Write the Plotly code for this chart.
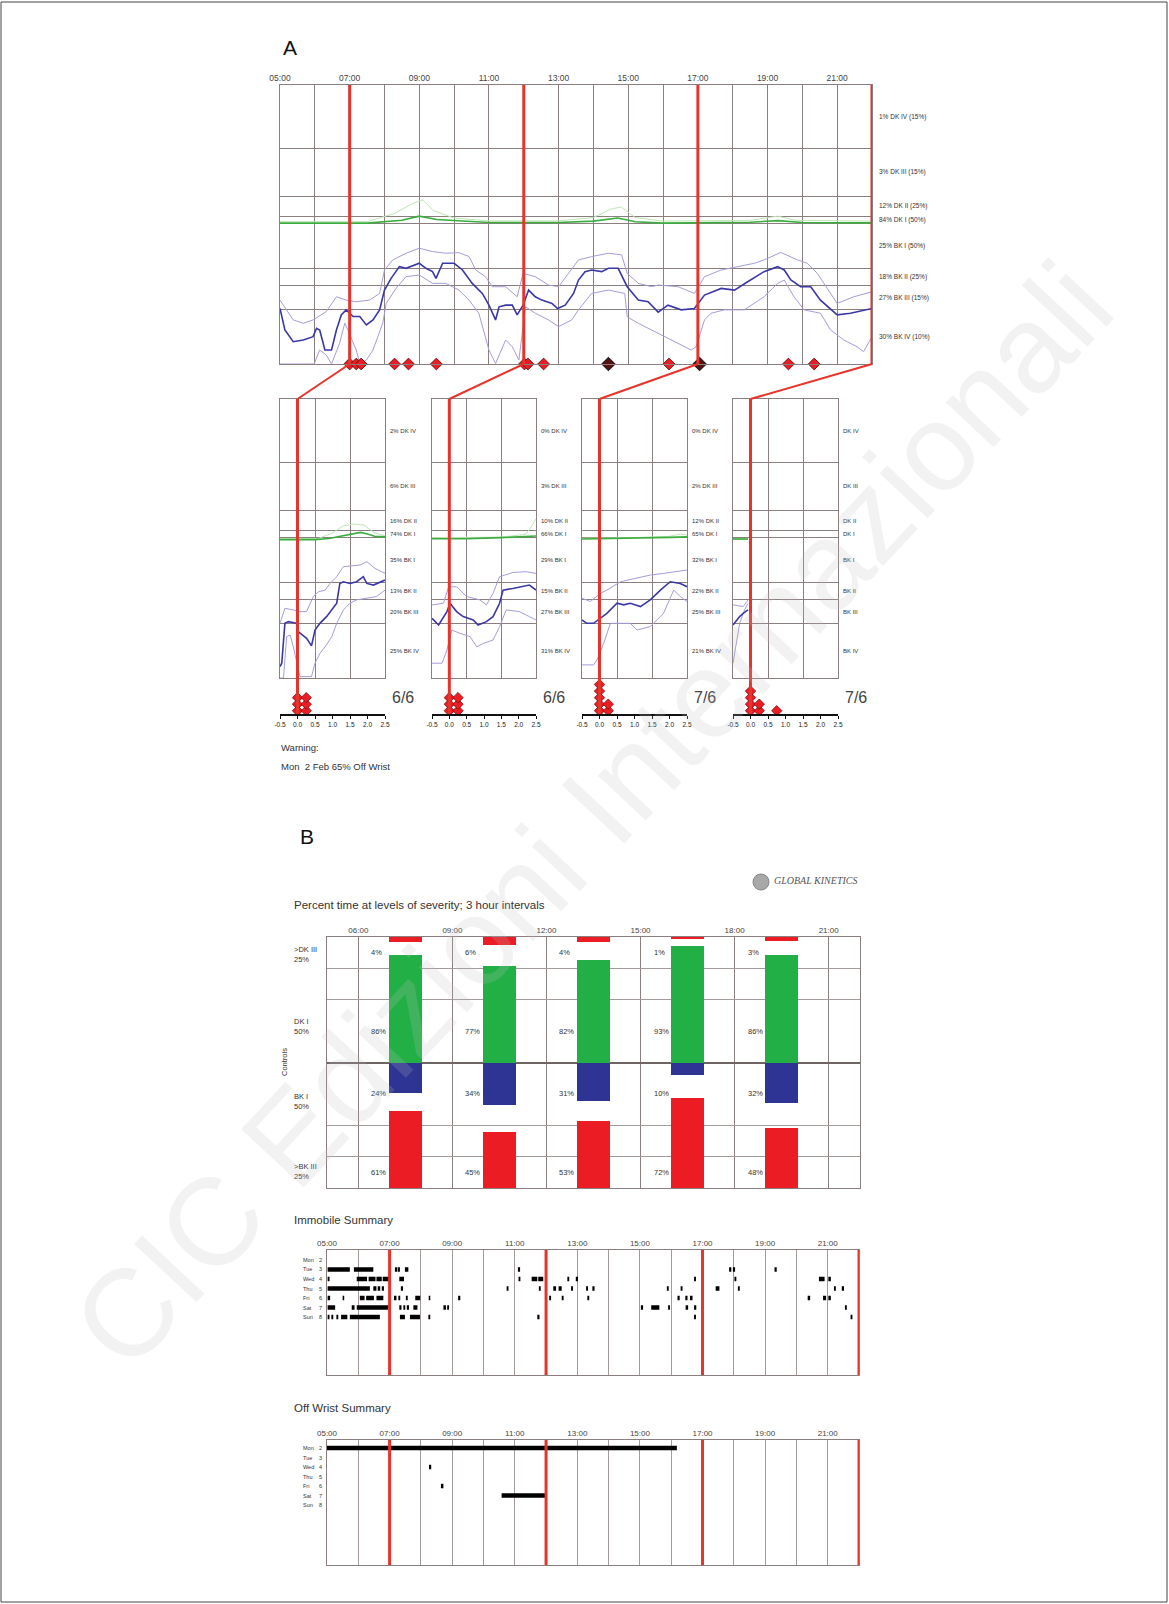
import plotly.graph_objects as go

# ---------------- data ----------------
HOURS = list(range(5, 23))                       # hourly grid 05:00 - 22:00
LABEL_HOURS = [5, 7, 9, 11, 13, 15, 17, 19, 21]
BAR_LABEL_HOURS = [6, 9, 12, 15, 18, 21]
WINDOW_STARTS = [7.0, 12.0, 17.0, 22.0]          # starts of the four 3-hour windows
WINDOW_DATES = ["6/6", "6/6", "7/6", "7/6"]
WINDOW_TICKS = [-0.5, 0.0, 0.5, 1.0, 1.5, 2.0, 2.5]

# severity bands (bottom -> top) on a 0-100 display scale
BAND_EDGES = [0, 19.4, 28.0, 34.4, 50.2, 52.7, 60.2, 77.4, 100]
BAND_NAMES = ["BK IV", "BK III", "BK II", "BK I", "DK I", "DK II", "DK III", "DK IV"]
DAY_PCT = [30, 27, 18, 25, 84, 12, 3, 1]
CONTROL_PCT = [10, 15, 25, 50, 50, 25, 15, 15]
WIN1_PCT = [25, 20, 13, 35, 74, 16, 6, 2]
WIN2_PCT = [31, 27, 15, 29, 66, 10, 3, 0]
WIN3_PCT = [21, 25, 22, 32, 65, 12, 2, 0]
WIN4_PCT = [None] * 8

# whole-day bradykinesia score: median, 75th and 25th percentile (hour, score)
DAY_MED = [(5.00, 19.9), (5.14, 12.2), (5.38, 8.0), (5.67, 8.6), (5.95, 9.8), (6.05, 12.8),
           (6.14, 12.2), (6.29, 5.0), (6.48, 5.0), (6.62, 12.2), (6.76, 17.6), (6.90, 19.4),
           (7.10, 17.0), (7.29, 17.0), (7.48, 14.0), (7.67, 15.8), (7.86, 19.4), (8.00, 26.5),
           (8.19, 30.7), (8.43, 34.9), (8.62, 34.3), (9.00, 36.1), (9.19, 34.3), (9.38, 33.1),
           (9.48, 30.7), (9.67, 36.1), (10.00, 36.1), (10.24, 33.7), (10.52, 28.9), (10.81, 25.3),
           (11.00, 21.1), (11.19, 15.8), (11.29, 20.5), (11.48, 21.1), (11.67, 21.1), (11.81, 17.6),
           (11.98, 21.1), (12.14, 26.5), (12.33, 24.1), (12.52, 22.9), (12.81, 21.7), (12.97, 19.9),
           (13.19, 21.1), (13.43, 25.3), (13.57, 30.1), (13.76, 33.1), (13.95, 33.7), (14.24, 33.1),
           (14.43, 34.3), (14.71, 34.3), (14.97, 27.7), (15.29, 22.9), (15.57, 22.3), (15.86, 18.6),
           (16.14, 21.1), (16.52, 19.4), (16.90, 19.9), (17.19, 24.7), (17.67, 27.1), (18.05, 26.5),
           (18.43, 29.5), (18.90, 33.1), (19.29, 34.9), (19.48, 33.7), (19.67, 30.1), (19.95, 27.7),
           (20.24, 27.7), (20.52, 22.9), (21.00, 17.6), (21.38, 18.2), (22.00, 19.9)]
DAY_UP = [(5.00, 22.9), (5.38, 15.8), (5.67, 14.6), (5.95, 15.8), (6.33, 18.8), (6.62, 24.1),
          (6.90, 22.9), (7.19, 22.3), (7.57, 22.9), (7.86, 25.3), (8.00, 33.7), (8.24, 37.3),
          (8.62, 39.7), (9.00, 41.5), (9.38, 40.3), (9.76, 39.7), (10.14, 39.9), (10.43, 38.5),
          (10.62, 33.7), (10.90, 31.3), (11.10, 27.7), (11.48, 27.7), (11.81, 24.1), (11.98, 32.5),
          (12.33, 31.3), (12.71, 28.3), (13.00, 27.7), (13.29, 32.5), (13.57, 37.3), (13.95, 38.5),
          (14.43, 39.7), (14.81, 39.1), (14.97, 32.5), (15.29, 28.9), (15.67, 27.7), (15.86, 28.3),
          (16.43, 27.7), (16.90, 25.3), (17.19, 31.3), (17.67, 33.7), (18.14, 34.9), (18.62, 36.1),
          (18.90, 37.3), (19.38, 40.0), (19.86, 37.3), (20.14, 36.1), (20.43, 32.5), (20.81, 25.3),
          (21.00, 21.7), (21.48, 24.1), (22.00, 25.9)]
DAY_LOW = [(5.00, 0.0), (5.98, 0.0), (6.14, 5.0), (6.33, 3.2), (6.48, 0.0), (6.71, 7.4),
           (6.86, 14.6), (6.95, 12.2), (7.19, 5.0), (7.29, 0.2), (7.48, 1.4), (7.67, 5.0),
           (7.95, 14.6), (8.05, 21.7), (8.33, 27.1), (8.62, 31.3), (9.00, 31.9), (9.38, 28.9),
           (9.76, 28.9), (10.14, 26.5), (10.43, 22.9), (10.71, 18.2), (11.00, 5.0), (11.19, 0.2),
           (11.48, 8.6), (11.67, 6.2), (11.86, 1.4), (11.98, 14.6), (12.05, 20.5), (12.33, 18.2),
           (12.71, 15.8), (13.00, 13.4), (13.38, 15.8), (13.57, 19.4), (13.95, 25.3), (14.43, 26.5),
           (14.90, 25.3), (14.97, 16.9), (15.29, 14.6), (15.67, 12.2), (16.05, 9.8), (16.43, 7.4),
           (16.81, 5.0), (16.95, 6.2), (17.19, 15.8), (17.38, 18.2), (17.76, 19.4), (18.33, 19.4),
           (18.90, 24.1), (19.29, 28.9), (19.48, 30.1), (19.76, 24.1), (20.05, 19.4), (20.52, 18.2),
           (20.81, 12.2), (21.19, 8.6), (21.57, 6.2), (21.76, 4.4), (22.00, 9.8)]
# whole-day dyskinesia score: median and 75th percentile
DAY_DK_MED = [(5.0, 50.5), (7.5, 50.5), (8.5, 51.5), (9.0, 53.0), (9.5, 51.8), (10.5, 51.2),
              (11.0, 50.7), (13.0, 50.7), (14.0, 51.2), (14.7, 52.3), (15.2, 51.0), (16.0, 50.5),
              (18.5, 50.8), (19.3, 51.4), (20.0, 50.7), (22.0, 50.6)]
DAY_DK_UP = [(5.0, 51.0), (7.5, 51.0), (8.3, 54.0), (8.8, 57.5), (9.1, 58.8), (9.4, 55.0),
             (10.0, 52.3), (11.0, 51.3), (13.0, 51.3), (14.0, 52.5), (14.5, 55.5), (14.8, 56.3),
             (15.2, 52.5), (16.0, 51.2), (18.5, 51.5), (19.3, 53.0), (19.8, 51.5), (22.0, 51.2)]
DOSE_TIMES = [7.00, 7.19, 7.33, 8.29, 8.69, 9.49, 12.02, 12.12, 12.57, 16.17, 19.60, 20.34]
DOSE_ACK_TIMES = [14.43, 17.05]

# 3-hour windows, hours relative to window start
WIN1_MED = [(-0.50, 4.1), (-0.45, 5.3), (-0.36, 19.6), (-0.26, 20.2), (-0.02, 19.6), (0.02, 16.6),
            (0.26, 14.2), (0.40, 11.5), (0.50, 17.2), (0.64, 19.6), (0.83, 22.0), (0.98, 24.4),
            (1.12, 26.8), (1.21, 33.9), (1.31, 34.5), (1.50, 33.9), (1.69, 34.5), (1.88, 36.3),
            (1.98, 33.9), (2.17, 33.3), (2.50, 35.1)]
WIN1_UP = [(-0.50, 19.6), (-0.36, 25.0), (-0.12, 24.4), (0.02, 23.8), (0.26, 23.8), (0.45, 29.2),
           (0.60, 30.9), (0.79, 31.5), (0.93, 33.9), (1.12, 36.3), (1.31, 39.9), (1.79, 40.5),
           (1.98, 41.7), (2.21, 39.3), (2.50, 37.5)]
WIN1_LOW = [(-0.50, 0.0), (-0.40, 0.0), (-0.31, 14.8), (-0.21, 15.4), (-0.12, 11.2), (-0.02, 5.3),
            (0.07, 0.5), (0.40, 0.5), (0.50, 5.3), (0.64, 8.8), (0.79, 11.2), (0.98, 14.8),
            (1.12, 19.6), (1.31, 24.4), (1.50, 26.8), (1.69, 28.0), (1.98, 28.6), (2.26, 29.2),
            (2.50, 31.5)]
WIN1_DK_MED = [(-0.5, 49.6), (0.5, 49.6), (0.9, 50.0), (1.3, 51.0), (1.6, 51.5), (1.8, 52.2),
               (2.0, 51.6), (2.2, 50.8), (2.5, 50.6)]
WIN1_DK_UP = [(-0.5, 50.0), (0.6, 50.0), (1.0, 52.0), (1.3, 54.5), (1.6, 55.2), (1.9, 54.8),
              (2.2, 52.0), (2.5, 51.0)]

WIN2_MED = [(-0.50, 21.4), (-0.31, 19.0), (-0.07, 23.8), (0.02, 26.8), (0.21, 23.8), (0.40, 22.0),
            (0.69, 20.8), (0.83, 19.0), (1.07, 20.2), (1.26, 22.0), (1.45, 26.8), (1.55, 31.5),
            (1.83, 32.1), (2.12, 32.7), (2.31, 33.3), (2.50, 31.5)]
WIN2_UP = [(-0.50, 26.2), (-0.17, 26.8), (-0.02, 32.7), (0.21, 32.7), (0.50, 29.2), (0.88, 28.0),
           (1.07, 26.2), (1.26, 30.3), (1.45, 36.3), (1.83, 37.8), (2.21, 38.1), (2.50, 37.5)]
WIN2_LOW = [(-0.50, 5.3), (-0.21, 5.3), (-0.07, 10.0), (0.07, 17.2), (0.31, 16.0), (0.60, 14.8),
            (0.79, 11.2), (0.98, 12.4), (1.26, 13.6), (1.45, 18.4), (1.64, 24.4), (2.02, 23.8),
            (2.31, 22.0), (2.50, 20.8)]
WIN2_DK_MED = [(-0.5, 49.9), (0.5, 49.9), (1.5, 50.3), (2.2, 50.8), (2.5, 50.9)]
WIN2_DK_UP = [(-0.5, 50.3), (1.5, 50.5), (2.2, 51.5), (2.35, 54.0), (2.5, 57.0)]

WIN3_MED = [(-0.50, 20.8), (-0.36, 19.6), (-0.17, 19.6), (0.02, 21.4), (0.21, 23.2), (0.50, 26.8),
            (0.69, 26.2), (0.88, 26.8), (1.17, 25.6), (1.45, 28.0), (1.74, 31.5), (2.02, 34.5),
            (2.31, 33.9), (2.50, 32.7)]
WIN3_UP = [(-0.50, 28.6), (-0.26, 27.4), (0.02, 30.3), (0.21, 31.5), (0.60, 34.5), (1.07, 35.7),
           (1.45, 36.9), (1.83, 37.5), (2.21, 38.1), (2.50, 38.7)]
WIN3_LOW = [(-0.50, 4.7), (-0.17, 4.7), (-0.07, 6.5), (0.12, 12.4), (0.31, 19.6), (0.60, 19.6),
            (0.88, 19.6), (1.07, 17.2), (1.45, 18.4), (1.83, 23.2), (2.12, 31.5), (2.31, 29.2),
            (2.50, 27.4)]
WIN3_DK_MED = [(-0.5, 49.8), (1.0, 50.0), (2.0, 50.4), (2.5, 50.6)]
WIN3_DK_UP = [(-0.5, 50.1), (1.0, 50.3), (2.0, 50.8), (2.3, 51.6), (2.5, 51.3)]

WIN4_MED = [(-0.50, 19.0), (-0.40, 20.8), (-0.31, 22.0), (-0.21, 23.2), (-0.07, 24.4)]
WIN4_UP = [(-0.50, 26.2), (-0.21, 25.6), (-0.07, 28.0)]
WIN4_LOW = [(-0.50, 5.3), (-0.40, 12.4), (-0.31, 19.6), (-0.17, 24.4), (-0.07, 26.8)]
WIN4_DK_MED = [(-0.5, 49.8), (-0.07, 49.8)]
WIN4_DK_UP = [(-0.5, 50.0), (-0.07, 50.0)]

# dose reminders in each window: (hour from window start, stack level)
WIN1_DOSES = [(0.0, 0), (0.0, 1), (0.0, 2), (0.25, 0), (0.25, 1), (0.25, 2)]
WIN2_DOSES = [(0.0, 0), (0.0, 1), (0.0, 2), (0.25, 0), (0.25, 1), (0.25, 2)]
WIN3_DOSES = [(0.0, 0), (0.0, 1), (0.0, 2), (0.0, 3), (0.0, 4), (0.25, 0), (0.25, 1)]
WIN4_DOSES = [(0.0, 0), (0.0, 1), (0.0, 2), (0.0, 3), (0.25, 0), (0.25, 1), (0.75, 0)]

# percent time at levels of severity, 3-hour intervals
BAR_CENTERS = [7.5, 10.5, 13.5, 16.5, 19.5]
PCT_DK3 = [4, 6, 4, 1, 3]
PCT_DK1 = [86, 77, 82, 93, 86]
PCT_BK1 = [24, 34, 31, 10, 32]
PCT_BK3 = [61, 45, 53, 72, 48]
ROW_NAMES = [">DK III<br>25%", "DK I<br>50%", "BK I<br>50%", ">BK III<br>25%"]

DAYS = ["Mon", "Tue", "Wed", "Thu", "Fri", "Sat", "Sun"]
DAY_NUMS = [2, 3, 4, 5, 6, 7, 8]

# immobile periods per day (start hour, end hour)
IMM_MON = []
IMM_TUE = [(5.02, 5.73), (5.86, 6.48), (7.17, 7.25), (7.27, 7.33), (7.49, 7.60), (11.10, 11.17),
           (17.85, 17.92), (17.97, 18.04), (19.30, 19.37)]
IMM_WED = [(5.02, 5.08), (5.95, 6.28), (6.33, 6.55), (6.58, 6.75), (6.78, 7.00), (7.31, 7.46),
           (11.12, 11.18), (11.54, 11.72), (11.75, 11.91), (12.68, 12.74), (12.95, 13.02),
           (16.73, 16.79), (18.02, 18.08), (20.72, 20.90), (21.02, 21.10)]
IMM_THU = [(5.02, 6.37), (6.48, 6.58), (6.62, 6.70), (6.75, 6.82), (7.36, 7.43), (10.74, 10.80),
           (11.77, 11.83), (12.23, 12.32), (12.40, 12.50), (12.80, 12.86), (13.28, 13.34),
           (13.48, 13.55), (15.86, 15.92), (16.30, 16.36), (17.42, 17.54), (18.13, 18.19),
           (21.20, 21.26), (21.45, 21.52)]
IMM_FRI = [(5.02, 5.10), (5.50, 5.55), (6.05, 6.20), (6.25, 6.50), (6.58, 6.80), (7.14, 7.22),
           (7.28, 7.34), (7.52, 7.58), (7.82, 7.98), (8.25, 8.30), (9.19, 9.26), (12.10, 12.16),
           (12.50, 12.56), (13.32, 13.38), (16.20, 16.27), (16.45, 16.52), (16.60, 16.68),
           (20.36, 20.44), (20.85, 20.95), (21.02, 21.10)]
IMM_SAT = [(5.02, 5.26), (5.79, 5.88), (5.95, 6.96), (7.31, 7.38), (7.44, 7.50), (7.55, 7.62),
           (7.76, 7.89), (8.72, 8.80), (8.84, 8.90), (15.03, 15.10), (15.36, 15.62), (15.90, 15.96),
           (16.46, 16.54), (16.73, 16.80), (21.55, 21.61)]
IMM_SUN = [(5.02, 5.08), (5.14, 5.20), (5.30, 5.36), (5.45, 5.65), (5.73, 6.69), (7.33, 7.49),
           (7.65, 7.97), (8.24, 8.30), (11.72, 11.79), (16.73, 16.79), (21.73, 21.79)]

# off-wrist periods per day
OFF_MON = [(5.00, 16.18)]
OFF_TUE = []
OFF_WED = [(8.26, 8.33)]
OFF_THU = []
OFF_FRI = [(8.64, 8.72)]
OFF_SAT = [(10.58, 12.02)]
OFF_SUN = []

# ---------------- styling ----------------
W, H = 1169, 1604
FONT = "Liberation Sans, Arial, sans-serif"
GRID = "#8a7e7e"
GRID_LIGHT = "#a39a9a"
RED = "#e8332a"
BLUE_DARK = "#3a37a6"
BLUE_LIGHT = "#a39ddb"
GREEN = "#3aad3e"
GREEN_LIGHT = "#bfe6b6"
BAR_GREEN = "#22b046"
BAR_BLUE = "#2e3494"
BAR_RED = "#ec1c24"
TXT = "#333333"


def fx(px):
    return px / W


def fy(py):
    return 1 - py / H


def to_px(v, rng, dom):
    return dom[0] + (v - rng[0]) / (rng[1] - rng[0]) * (dom[1] - dom[0])


def unzip(pairs):
    return [p[0] for p in pairs], [p[1] for p in pairs]


def seg_xy(rows):
    xs, ys = [], []
    for i, segs in enumerate(rows):
        for a, b in segs:
            xs += [a, b, None]
            ys += [i, i, None]
    return xs, ys


def hour_text(h, labelled):
    return f"{int(h):02d}:00" if h in labelled else ""


fig = go.Figure()
axes = {}
annotations = []
shapes = []


def ax_name(n, k):
    return f"{k}axis" if n == 1 else f"{k}axis{n}"


def ref(n, k):
    return k if n == 1 else f"{k}{n}"


band_centers = [(BAND_EDGES[i] + BAND_EDGES[i + 1]) / 2 for i in range(8)]

# ---------------- panel A: whole day ----------------
TOP_X = (280, 872)
TOP_Y = (85, 364)
TOP_RANGE = [5, 22]
axes[ax_name(1, "x")] = dict(domain=[fx(TOP_X[0]), fx(TOP_X[1])], range=TOP_RANGE, side="top",
                             anchor="y", tickmode="array", tickvals=HOURS,
                             ticktext=[hour_text(h, LABEL_HOURS) for h in HOURS],
                             showgrid=True, gridcolor=GRID, gridwidth=1, showline=True,
                             linecolor=GRID, mirror=True, ticks="", zeroline=False,
                             tickfont=dict(size=8.5, color="#444"))
axes[ax_name(1, "y")] = dict(domain=[fy(TOP_Y[1]), fy(TOP_Y[0])], range=[0, 100], anchor="x",
                             tickmode="array", tickvals=BAND_EDGES, showticklabels=False,
                             showgrid=True, gridcolor=GRID, showline=True, linecolor=GRID,
                             mirror=True, zeroline=False, ticks="")


def add_lines(n, low, up, med, dk_up, dk_med):
    for series, col, wid in [(low, BLUE_LIGHT, 1), (up, BLUE_LIGHT, 1), (dk_up, GREEN_LIGHT, 1),
                             (dk_med, GREEN, 1.6), (med, BLUE_DARK, 1.6)]:
        xs, ys = unzip(series)
        fig.add_trace(go.Scatter(x=xs, y=ys, mode="lines", line=dict(color=col, width=wid),
                                 xaxis=ref(n, "x"), yaxis=ref(n, "y"), hoverinfo="skip"))


add_lines(1, DAY_LOW, DAY_UP, DAY_MED, DAY_DK_UP, DAY_DK_MED)
for t in WINDOW_STARTS:
    shapes.append(dict(type="line", xref="x", yref="y domain", x0=t, x1=t, y0=0, y1=1,
                       line=dict(color=RED, width=3)))
fig.add_trace(go.Scatter(x=DOSE_TIMES, y=[0] * len(DOSE_TIMES), mode="markers", cliponaxis=False,
                         marker=dict(symbol="diamond", size=9, color=BAR_RED,
                                     line=dict(color="#6e1010", width=1)),
                         xaxis="x", yaxis="y"))
fig.add_trace(go.Scatter(x=DOSE_ACK_TIMES, y=[0] * len(DOSE_ACK_TIMES), mode="markers",
                         cliponaxis=False,
                         marker=dict(symbol="diamond", size=10, color="#5a1010",
                                     line=dict(color="#222", width=1.2)),
                         xaxis="x", yaxis="y"))
for c, name, p, ctl in zip(band_centers, BAND_NAMES, DAY_PCT, CONTROL_PCT):
    annotations.append(dict(xref="paper", yref="y", x=fx(TOP_X[1] + 5), y=c, xanchor="left",
                            yanchor="middle", showarrow=False, text=f"{p}% {name} ({ctl}%)",
                            font=dict(size=6.5, color=TXT)))

# ---------------- panel A: 3-hour windows ----------------
WIN_X = [(280, 385), (432, 536), (582, 687), (733, 838)]
WIN_Y = (399, 678)
STRIP_Y = (678, 714)
WIN_RANGE = [-0.5, 2.5]
windows = [
    (WIN1_LOW, WIN1_UP, WIN1_MED, WIN1_DK_UP, WIN1_DK_MED, WIN1_DOSES, WIN1_PCT),
    (WIN2_LOW, WIN2_UP, WIN2_MED, WIN2_DK_UP, WIN2_DK_MED, WIN2_DOSES, WIN2_PCT),
    (WIN3_LOW, WIN3_UP, WIN3_MED, WIN3_DK_UP, WIN3_DK_MED, WIN3_DOSES, WIN3_PCT),
    (WIN4_LOW, WIN4_UP, WIN4_MED, WIN4_DK_UP, WIN4_DK_MED, WIN4_DOSES, WIN4_PCT),
]
for i, (low, up, med, dk_up, dk_med, doses, pcts) in enumerate(windows):
    n = 2 + i
    s = 6 + i
    xd = [fx(WIN_X[i][0]), fx(WIN_X[i][1])]
    axes[ax_name(n, "x")] = dict(domain=xd, range=WIN_RANGE, anchor=ref(n, "y"), tickmode="array",
                                 tickvals=[-0.5, 0.5, 1.5, 2.5], showticklabels=False,
                                 showgrid=True, gridcolor=GRID, showline=True, linecolor=GRID,
                                 mirror=True, zeroline=False, ticks="")
    axes[ax_name(n, "y")] = dict(domain=[fy(WIN_Y[1]), fy(WIN_Y[0])], range=[0, 100],
                                 anchor=ref(n, "x"), tickmode="array", tickvals=BAND_EDGES,
                                 showticklabels=False, showgrid=True, gridcolor=GRID,
                                 showline=True, linecolor=GRID, mirror=True, zeroline=False,
                                 ticks="")
    add_lines(n, low, up, med, dk_up, dk_med)

    # dose strip with its own time axis
    axes[ax_name(s, "x")] = dict(domain=xd, range=WIN_RANGE, anchor=ref(s, "y"), tickmode="array",
                                 tickvals=WINDOW_TICKS, ticktext=[f"{v:.1f}" for v in WINDOW_TICKS],
                                 ticks="outside", ticklen=3, tickcolor="#111", tickwidth=1,
                                 showline=True, linecolor="#111", linewidth=2, showgrid=False,
                                 zeroline=False, tickfont=dict(size=6.5, color="#222"))
    axes[ax_name(s, "y")] = dict(domain=[fy(STRIP_Y[1]), fy(STRIP_Y[0])], range=[0, 5.5],
                                 anchor=ref(s, "x"), visible=False)

    # window marker line and connector to the day plot
    shapes.append(dict(type="line", xref=ref(n, "x"), yref="paper", x0=0, x1=0,
                       y0=fy(STRIP_Y[1]), y1=fy(WIN_Y[0]), line=dict(color=RED, width=3)))
    top_px = to_px(WINDOW_STARTS[i], TOP_RANGE, TOP_X)
    win_px = to_px(0, WIN_RANGE, WIN_X[i])
    shapes.append(dict(type="line", xref="paper", yref="paper", x0=fx(top_px), y0=fy(TOP_Y[1]),
                       x1=fx(win_px), y1=fy(WIN_Y[0]), line=dict(color=RED, width=2)))

    dx, dl = unzip(doses)
    fig.add_trace(go.Scatter(x=dx, y=[l + 0.5 for l in dl], mode="markers", cliponaxis=False,
                             marker=dict(symbol="diamond", size=8, color=BAR_RED,
                                         line=dict(color="#7a1010", width=0.8)),
                             xaxis=ref(s, "x"), yaxis=ref(s, "y")))

    for c, name, p in zip(band_centers, BAND_NAMES, pcts):
        label = name if p is None else f"{p}% {name}"
        annotations.append(dict(xref="paper", yref=ref(n, "y"), x=fx(WIN_X[i][1] + 3), y=c,
                                xanchor="left", yanchor="middle", showarrow=False, text=label,
                                font=dict(size=6, color=TXT)))
    annotations.append(dict(xref="paper", yref="paper", x=fx(WIN_X[i][1] + 5), y=fy(697),
                            xanchor="left", yanchor="middle", showarrow=False,
                            text=WINDOW_DATES[i], font=dict(size=16, color="#444")))

annotations += [
    dict(xref="paper", yref="paper", x=fx(281), y=fy(47), xanchor="left", yanchor="middle",
         showarrow=False, text="A", font=dict(size=21, color="#111")),
    dict(xref="paper", yref="paper", x=fx(279), y=fy(748), xanchor="left", yanchor="middle",
         showarrow=False, text="Warning:", font=dict(size=9.5, color=TXT)),
    dict(xref="paper", yref="paper", x=fx(279), y=fy(767), xanchor="left", yanchor="middle",
         showarrow=False, text="Mon  2 Feb 65% Off Wrist", font=dict(size=9.5, color=TXT)),
]

# ---------------- panel B: percent time bars ----------------
BAR_X = (327, 860)
BAR_Y = (937, 1188)
axes[ax_name(10, "x")] = dict(domain=[fx(BAR_X[0]), fx(BAR_X[1])], range=[5, 22], side="top",
                              anchor="y10", tickmode="array", tickvals=BAR_LABEL_HOURS,
                              ticktext=[hour_text(h, BAR_LABEL_HOURS) for h in BAR_LABEL_HOURS],
                              showgrid=True, gridcolor=GRID, showline=True, linecolor=GRID,
                              mirror=True, ticks="", zeroline=False,
                              tickfont=dict(size=8, color="#444"))
axes[ax_name(10, "y")] = dict(domain=[fy(BAR_Y[1]), fy(BAR_Y[0])], range=[-100, 100],
                              anchor="x10", tickmode="array",
                              tickvals=[-100, -75, -50, 0, 50, 75, 100], showticklabels=False,
                              showgrid=True, gridcolor=GRID_LIGHT, showline=True, linecolor=GRID,
                              mirror=True, zeroline=True, zerolinecolor="#6f6464",
                              zerolinewidth=2, ticks="")
BAR_W = 1.03
fig.add_trace(go.Bar(x=BAR_CENTERS, y=[-v for v in PCT_DK3], base=100, width=BAR_W,
                     marker=dict(color=BAR_RED, line=dict(width=0)), xaxis="x10", yaxis="y10"))
fig.add_trace(go.Bar(x=BAR_CENTERS, y=PCT_DK1, base=0, width=BAR_W,
                     marker=dict(color=BAR_GREEN, line=dict(width=0)), xaxis="x10", yaxis="y10"))
fig.add_trace(go.Bar(x=BAR_CENTERS, y=[-v for v in PCT_BK1], base=0, width=BAR_W,
                     marker=dict(color=BAR_BLUE, line=dict(width=0)), xaxis="x10", yaxis="y10"))
fig.add_trace(go.Bar(x=BAR_CENTERS, y=PCT_BK3, base=-100, width=BAR_W,
                     marker=dict(color=BAR_RED, line=dict(width=0)), xaxis="x10", yaxis="y10"))
ROW_TEXT_Y = [87.5, 25, -25, -87.5]
for c, d3, d1, b1, b3 in zip(BAR_CENTERS, PCT_DK3, PCT_DK1, PCT_BK1, PCT_BK3):
    for yv, v in zip(ROW_TEXT_Y, [d3, d1, b1, b3]):
        annotations.append(dict(xref="x10", yref="y10", x=c - 1.15, y=yv, xanchor="left",
                                yanchor="middle", showarrow=False, text=f"{v}%",
                                font=dict(size=7.5, color=TXT)))
ROW_NAME_Y = [86, 29, -31, -87]
for yv, t in zip(ROW_NAME_Y, ROW_NAMES):
    annotations.append(dict(xref="paper", yref="y10", x=fx(292), y=yv, xanchor="left",
                            yanchor="middle", showarrow=False, text=t, align="left",
                            font=dict(size=7.5, color=TXT)))
annotations += [
    dict(xref="paper", yref="paper", x=fx(284), y=fy(1062), xanchor="center", yanchor="middle",
         showarrow=False, text="Controls", textangle=-90, font=dict(size=7.5, color=TXT)),
    dict(xref="paper", yref="paper", x=fx(298), y=fy(837), xanchor="left", yanchor="middle",
         showarrow=False, text="B", font=dict(size=21, color="#111")),
    dict(xref="paper", yref="paper", x=fx(292), y=fy(905), xanchor="left", yanchor="middle",
         showarrow=False, text="Percent time at levels of severity; 3 hour intervals",
         font=dict(size=11.5, color=TXT)),
    dict(xref="paper", yref="paper", x=fx(772), y=fy(880), xanchor="left", yanchor="middle",
         showarrow=False, text="GLOBAL KINETICS",
         font=dict(size=10, color="#555", style="italic", family="Liberation Serif, serif")),
]
shapes.append(dict(type="circle", xref="paper", yref="paper", x0=fx(753), x1=fx(769),
                   y0=fy(890), y1=fy(874), fillcolor="#a8a8a8", line=dict(color="#888", width=1)))

# ---------------- panel B: immobile and off-wrist summaries ----------------
SUM_X = (327, 859)
summaries = [
    (11, (1250, 1375), [12.1, -1.05], "Immobile Summary", 1220,
     [IMM_MON, IMM_TUE, IMM_WED, IMM_THU, IMM_FRI, IMM_SAT, IMM_SUN]),
    (12, (1440, 1565), [12.3, -0.84], "Off Wrist Summary", 1408,
     [OFF_MON, OFF_TUE, OFF_WED, OFF_THU, OFF_FRI, OFF_SAT, OFF_SUN]),
]
for n, ydom, yr, title, title_y, rows in summaries:
    axes[ax_name(n, "x")] = dict(domain=[fx(SUM_X[0]), fx(SUM_X[1])], range=[5, 22], side="top",
                                 anchor=ref(n, "y"), tickmode="array", tickvals=HOURS,
                                 ticktext=[hour_text(h, LABEL_HOURS) for h in HOURS],
                                 showgrid=True, gridcolor=GRID_LIGHT, showline=True,
                                 linecolor=GRID, mirror=True, ticks="", zeroline=False,
                                 tickfont=dict(size=8, color="#444"))
    axes[ax_name(n, "y")] = dict(domain=[fy(ydom[1]), fy(ydom[0])], range=yr, anchor=ref(n, "x"),
                                 showgrid=False, showticklabels=False, showline=True,
                                 linecolor=GRID, mirror=True, zeroline=False, ticks="")
    for t in WINDOW_STARTS:
        shapes.append(dict(type="line", xref=ref(n, "x"), yref=f"{ref(n, 'y')} domain", x0=t,
                           x1=t, y0=0, y1=1, line=dict(color=RED, width=3)))
    xs, ys = seg_xy(rows)
    fig.add_trace(go.Scatter(x=xs, y=ys, mode="lines", line=dict(color="#000", width=4.5),
                             xaxis=ref(n, "x"), yaxis=ref(n, "y"), hoverinfo="skip"))
    for i, (d, num) in enumerate(zip(DAYS, DAY_NUMS)):
        annotations.append(dict(xref="paper", yref=ref(n, "y"), x=fx(301), y=i, xanchor="left",
                                yanchor="middle", showarrow=False, text=d,
                                font=dict(size=5.5, color=TXT)))
        annotations.append(dict(xref="paper", yref=ref(n, "y"), x=fx(324), y=i, xanchor="right",
                                yanchor="middle", showarrow=False, text=str(num),
                                font=dict(size=5.5, color=TXT)))
    annotations.append(dict(xref="paper", yref="paper", x=fx(292), y=fy(title_y),
                            xanchor="left", yanchor="middle", showarrow=False, text=title,
                            font=dict(size=11.5, color=TXT)))

# publisher watermark and page frame
annotations.append(dict(xref="paper", yref="paper", x=fx(592), y=fy(815), xanchor="center",
                        yanchor="middle", showarrow=False, text="CIC Edizioni Internazionali",
                        textangle=-47, font=dict(size=124, color="rgba(190,190,190,0.2)")))
shapes.append(dict(type="rect", xref="paper", yref="paper", x0=fx(1), x1=fx(1167), y0=fy(1602),
                   y1=fy(2), line=dict(color="#444", width=1)))

fig.update_layout(width=W, height=H,
                  margin=dict(l=0, r=0, t=0, b=0, autoexpand=False),
                  paper_bgcolor="white", plot_bgcolor="white", showlegend=False,
                  barmode="overlay", bargap=0,
                  font=dict(family=FONT, color=TXT), annotations=annotations, shapes=shapes,
                  **axes)

fig.write_html("out.html")
